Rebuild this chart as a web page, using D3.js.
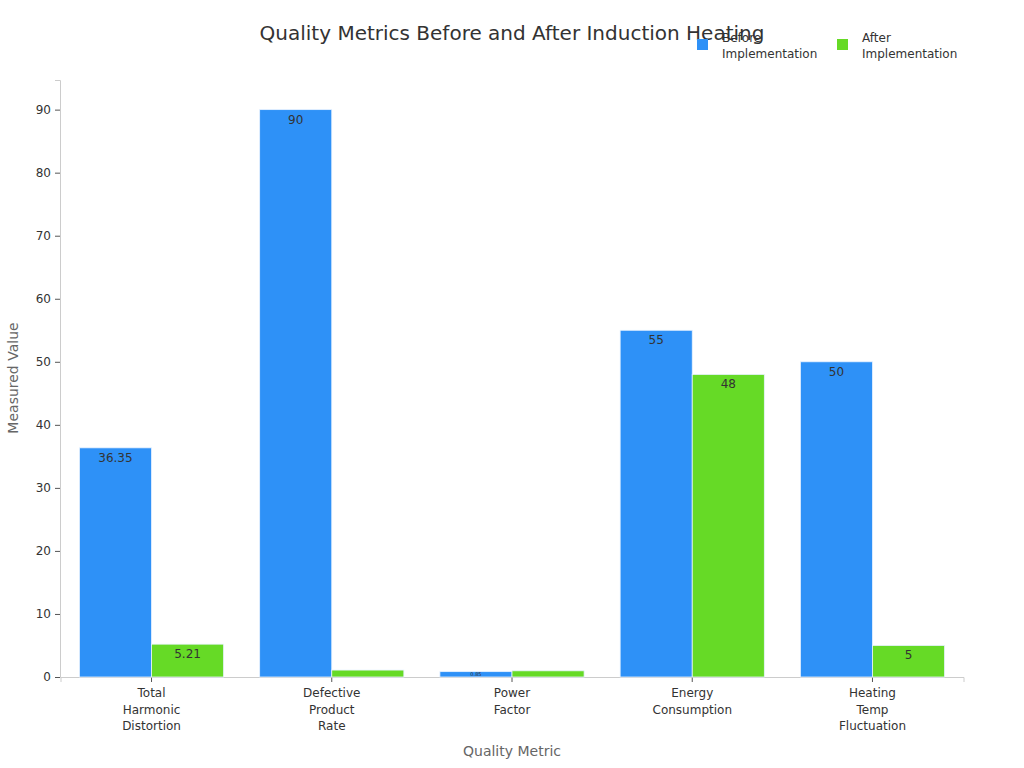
<!DOCTYPE html>
<html>
<head>
<meta charset="utf-8">
<script src="https://cdn.jsdelivr.net/npm/d3@7"></script>
<style>
body { margin: 0; background: #fff; }
text { font-family: "DejaVu Sans", sans-serif; }
</style>
</head>
<body>
<svg id="chart" width="1024" height="768"></svg>
<script>
const categories = [["Total","Harmonic","Distortion"],["Defective","Product","Rate"],["Power","Factor"],["Energy","Consumption"],["Heating","Temp","Fluctuation"]];
const categoryKeys = ["Total Harmonic Distortion","Defective Product Rate","Power Factor","Energy Consumption","Heating Temp Fluctuation"];
const seriesNames = ["Before Implementation","After Implementation"];
const beforeValues = [36.35, 90, 0.85, 55, 50];
const afterValues = [5.21, 1.1, 0.98, 48, 5];
const showAfterLabel = [true, false, false, true, true];
const showBeforeLabel = [true, true, true, true, true];
const yTicks = [0,10,20,30,40,50,60,70,80,90];
const colors = ["#2e91f7", "#66da26"];

const svg = d3.select("#chart");
const margin = {left: 60, right: 963, top: 80, bottom: 677};

const x0 = d3.scaleBand().domain(categoryKeys).range([margin.left + 0.5, margin.right + 0.5]).paddingInner(0.2).paddingOuter(0.105);
const x1 = d3.scaleBand().domain(seriesNames).range([0, x0.bandwidth()]);
const y = d3.scaleLinear().domain([0, 94.7]).range([margin.bottom, margin.top]);

// axes
const yAxis = svg.append("g").attr("transform", `translate(${margin.left},0)`)
  .call(d3.axisLeft(y).tickValues(yTicks).tickSize(5).tickPadding(4));
yAxis.select(".domain").attr("stroke", "#ccc");
yAxis.selectAll(".tick line").attr("stroke", "#555");
yAxis.selectAll(".tick text").attr("fill", "#333").style("font-size", "12px").style("font-family", "DejaVu Sans");

const xAxis = svg.append("g").attr("transform", `translate(0,${margin.bottom})`)
  .call(d3.axisBottom(x0).tickSize(5).tickFormat(""));
xAxis.select(".domain").attr("stroke", "#ccc");
xAxis.selectAll(".tick line").attr("stroke", "#555");
xAxis.selectAll(".tick").each(function(d, i) {
  const t = d3.select(this).append("text").attr("fill", "#333").attr("text-anchor", "middle")
    .style("font-size", "12px").style("font-family", "DejaVu Sans");
  categories[i].forEach((line, j) => {
    t.append("tspan").attr("x", 0).attr("y", 20 + j * 16.5).text(line);
  });
});

// bars
const data = categoryKeys.map((k, i) => ({key: k, vals: [
  {s: seriesNames[0], v: beforeValues[i], c: colors[0], show: showBeforeLabel[i]},
  {s: seriesNames[1], v: afterValues[i], c: colors[1], show: showAfterLabel[i]}
]}));

const groups = svg.append("g").selectAll("g").data(data).join("g")
  .attr("transform", d => `translate(${x0(d.key)},0)`);

groups.selectAll("rect").data(d => d.vals).join("rect")
  .attr("x", d => x1(d.s))
  .attr("y", d => y(d.v))
  .attr("width", x1.bandwidth())
  .attr("height", d => y(0) - y(d.v))
  .attr("fill", d => d.c)
  .attr("stroke", "#e8f2ff")
  .attr("stroke-width", 0.8);

groups.selectAll("text.lbl").data(d => d.vals.filter(v => v.show)).join("text")
  .attr("class", "lbl")
  .attr("x", d => x1(d.s) + x1.bandwidth() / 2)
  .attr("y", d => (y(0) - y(d.v)) < 10 ? y(d.v) + 4 : y(d.v) + 14)
  .attr("text-anchor", "middle")
  .attr("fill", "#333")
  .style("font-size", d => (y(0) - y(d.v)) < 10 ? "5px" : "12px")
  .text(d => d.v);

// title
svg.append("text").attr("x", 512).attr("y", 40).attr("text-anchor", "middle")
  .attr("fill", "#333").style("font-size", "20px").text("Quality Metrics Before and After Induction Heating");

// axis titles
svg.append("text").attr("transform", "translate(18,378) rotate(-90)").attr("text-anchor", "middle")
  .attr("fill", "#666").style("font-size", "14px").text("Measured Value");
svg.append("text").attr("x", 512).attr("y", 756).attr("text-anchor", "middle")
  .attr("fill", "#666").style("font-size", "14px").text("Quality Metric");

// legend
const legendX = [697, 837];
const legendLines = [["Before","Implementation"],["After","Implementation"]];
seriesNames.forEach((s, i) => {
  const g = svg.append("g").attr("transform", `translate(${legendX[i]},39)`);
  g.append("rect").attr("width", 11).attr("height", 11).attr("fill", colors[i]);
  const t = g.append("text").attr("fill", "#333").style("font-size", "12px");
  legendLines[i].forEach((line, j) => {
    t.append("tspan").attr("x", 25).attr("y", 3 + j * 16).text(line);
  });
});
</script>
</body>
</html>
